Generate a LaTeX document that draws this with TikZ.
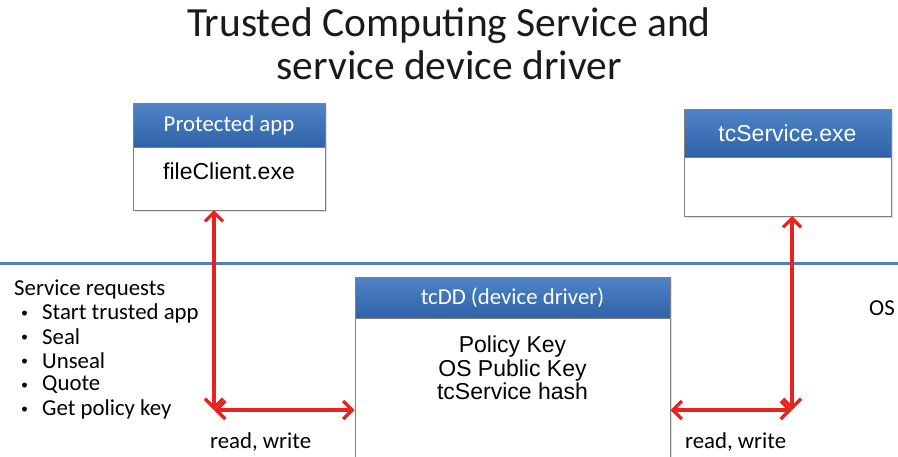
\documentclass[tikz,border=0pt]{standalone}
\usepackage{fontspec}
\setmainfont{Carlito}
\newfontfamily\arialfont{Liberation Sans}
\usetikzlibrary{arrows.meta,shadows}
\definecolor{boxgray}{HTML}{7F7F7F}
\definecolor{hdrtop}{HTML}{4F84C6}
\definecolor{hdrbot}{HTML}{2F62A8}
\definecolor{osline}{HTML}{4F81BD}
\definecolor{arrred}{HTML}{E8221C}
\definecolor{titlegray}{HTML}{1A1A1A}
\begin{document}
\begin{tikzpicture}[x=1pt,y=-1pt,
  box/.style={draw=boxgray, line width=1pt, fill=white, inner sep=0pt,
    drop shadow={opacity=0.25, shadow xshift=1.5pt, shadow yshift=-1.5pt}},
  hdr/.style={draw=boxgray, line width=1pt, top color=hdrtop, bottom color=hdrbot,
    text=white, inner sep=0pt, font=\fontsize{22.8}{24}\selectfont},
  body/.style={font=\arialfont\fontsize{23}{23.5}\selectfont, align=center, inner sep=0pt},
  lbl/.style={font=\fontsize{22.8}{24}\selectfont, inner sep=0pt, anchor=west},
  bul/.style={font=\fontsize{14}{14}\selectfont, inner sep=0pt},
  rw/.style={draw=arrred, line width=3.2pt,
    {Straight Barb[length=9pt,width=18pt]}-{Straight Barb[length=9pt,width=18pt]}}
]
\clip (0,0) rectangle (898,456);
\fill[white] (0,0) rectangle (898,456);

% title
\node[font=\fontsize{41.5}{43}\selectfont, align=center, inner sep=0pt, text=titlegray] (title) at (449,44)
  {Trusted Computing Service and\\service device driver};

% OS boundary
\coordinate (lineL) at (0,263);
\coordinate (lineR) at (898,263);
\draw[osline, line width=3pt] (lineL) -- (lineR);

% Protected app
\node[box, minimum width=192pt, minimum height=107pt] (app) at (229,156.5) {};
\node[hdr, minimum width=192pt, minimum height=44pt] (apphdr) at (229,125) {Protected app};
\node[body] (appbody) at (229,171) {fileClient.exe};

% tcService
\node[box, minimum width=207pt, minimum height=107pt] (svc) at (787.5,162.5) {};
\node[hdr, minimum width=207pt, minimum height=48pt, font=\arialfont\fontsize{23}{23}\selectfont] (svchdr) at (787.5,133) {tcService.exe};

% tcDD
\node[box, minimum width=315pt, minimum height=203pt] (dd) at (512.5,378.5) {};
\node[hdr, minimum width=315pt, minimum height=41pt] (ddhdr) at (512.5,297.5) {tcDD (device driver)};
\node[body] (ddbody) at (512.5,368) {Policy Key\\OS Public Key\\tcService hash};

% service requests
\node[lbl] (sr) at (14,289) {Service requests};
\foreach \t/\y [count=\i] in {Start trusted app/313, Seal/337, Unseal/361, Quote/385, Get policy key/409}{
  \node[bul] (b\i) at (24.5,\y+1) {•};
  \node[lbl] (s\i) at (42,\y) {\t};
}
\node[lbl] (os) at (869,308) {OS};

% connectors
\coordinate (cL) at (214,410);
\coordinate (cR) at (792,410);
\coordinate (appB) at (214,210);
\coordinate (svcB) at (792,216);
\draw[rw] (appB) -- (cL);
\draw[rw] (cL) -- (dd.west |- cL);
\draw[rw] (svcB) -- (cR);
\draw[rw] (dd.east |- cR) -- (cR);

\node[lbl] (rw1) at (210,442) {read, write};
\node[lbl] (rw2) at (685,442) {read, write};
\end{tikzpicture}
\end{document}
